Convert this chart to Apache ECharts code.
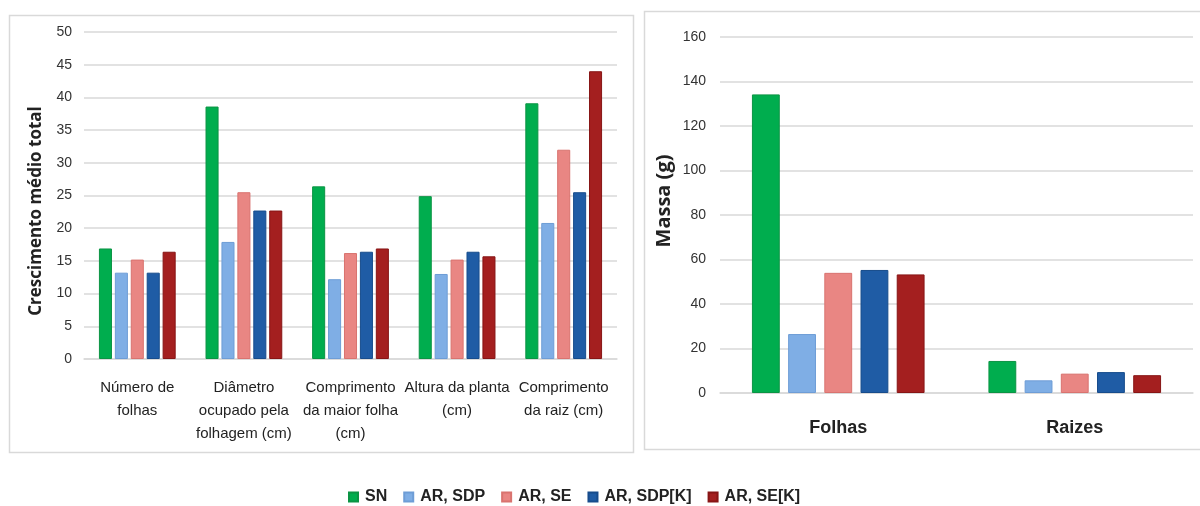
<!DOCTYPE html>
<html>
<head>
<meta charset="utf-8">
<script src="https://cdn.jsdelivr.net/npm/echarts@6/dist/echarts.min.js"></script>
<style>html,body{margin:0;padding:0;background:#fff}#c{width:1200px;height:506px}</style>
</head>
<body>
<div id="c"></div>
<script>
const seriesNames = ['SN', 'AR, SDP', 'AR, SE', 'AR, SDP[K]', 'AR, SE[K]'];
const colors = ['#00AD4E', '#7FAEE5', '#E98683', '#1F5CA5', '#A41F1F'];
const borders = ['#0B9444', '#6E9DD6', '#D9736F', '#174C8C', '#871515'];

const leftCategories = ['Número de\nfolhas', 'Diâmetro\nocupado pela\nfolhagem (cm)', 'Comprimento\nda maior folha\n(cm)', 'Altura da planta\n(cm)', 'Comprimento\nda raiz (cm)'];
const leftSN     = [16.9, 38.6, 26.4, 24.9, 39.1];
const leftSDP    = [13.2, 17.9, 12.2, 13.0, 20.8];
const leftSE     = [15.2, 25.5, 16.2, 15.2, 32.0];
const leftSDPK   = [13.2, 22.7, 16.4, 16.4, 25.5];
const leftSEK    = [16.4, 22.7, 16.9, 15.7, 44.0];

const rightCategories = ['Folhas', 'Raizes'];
const rightSN   = [134.2, 14.4];
const rightSDP  = [26.5, 5.7];
const rightSE   = [54.0, 8.7];
const rightSDPK = [55.3, 9.4];
const rightSEK  = [53.3, 8.0];

const leftYTicks = {min: 0, max: 50, interval: 5};
const rightYTicks = {min: 0, max: 160, interval: 20};
const leftYName = 'Crescimento médio total';
const rightYName = 'Massa (g)';

const leftData = [leftSN, leftSDP, leftSE, leftSDPK, leftSEK];
const rightData = [rightSN, rightSDP, rightSE, rightSDPK, rightSEK];

const sans = '"Liberation Sans", Arial, sans-serif';
const gridColor = '#d9d9d9';

const series = [];
seriesNames.forEach((n, i) => {
  series.push({
    name: n, type: 'bar', xAxisIndex: 0, yAxisIndex: 0, data: leftData[i],
    barGap: '22%', barCategoryGap: '28%',
    itemStyle: {color: colors[i], borderColor: borders[i], borderWidth: 1}
  });
});
seriesNames.forEach((n, i) => {
  series.push({
    name: n, type: 'bar', xAxisIndex: 1, yAxisIndex: 1, data: rightData[i],
    barGap: '30%', barCategoryGap: '27%',
    itemStyle: {color: colors[i], borderColor: borders[i], borderWidth: 1}
  });
});

const chart = echarts.init(document.getElementById('c'), null, {renderer: 'canvas'});
chart.setOption({
  animation: false,
  color: colors,
  graphic: [
    {type: 'rect', shape: {x: 9.5, y: 15.5, width: 624, height: 437}, style: {fill: 'none', stroke: '#d9d9d9', lineWidth: 1.5}, z: -10},
    {type: 'rect', shape: {x: 644.5, y: 11.5, width: 570, height: 438}, style: {fill: 'none', stroke: '#d9d9d9', lineWidth: 1.5}, z: -10},
    {type: 'text', x: 36, y: 211, rotation: Math.PI / 2,
      style: {text: leftYName, align: 'center', verticalAlign: 'middle', fontFamily: '"Open Sans", sans-serif', fontWeight: 'bold', fontSize: 17, fill: '#222'}},
    {type: 'text', x: 664, y: 201, rotation: Math.PI / 2,
      style: {text: rightYName, align: 'center', verticalAlign: 'middle', fontFamily: '"Open Sans", sans-serif', fontWeight: 'bold', fontSize: 20, fill: '#222'}}
  ],
  legend: {
    data: seriesNames,
    top: 484,
    left: 343,
    itemWidth: 9, itemHeight: 9, itemGap: 16,
    icon: 'rect',
    textStyle: {fontFamily: sans, fontWeight: 'bold', fontSize: 16, color: '#222', padding: [0, 0, 0, 2]}
  },
  grid: [
    {left: 84, right: 583, top: 32, bottom: 147},
    {left: 720, right: 7, top: 37, bottom: 113}
  ],
  xAxis: [
    {type: 'category', gridIndex: 0, data: leftCategories,
      axisLine: {lineStyle: {color: gridColor, width: 1.5}}, axisTick: {show: false},
      axisLabel: {interval: 0, margin: 17, fontFamily: sans, fontSize: 15, lineHeight: 23, color: '#222'}},
    {type: 'category', gridIndex: 1, data: rightCategories,
      axisLine: {lineStyle: {color: gridColor, width: 1.5}}, axisTick: {show: false},
      axisLabel: {interval: 0, margin: 26, fontFamily: sans, fontSize: 18, fontWeight: 'bold', color: '#222'}}
  ],
  yAxis: [
    {type: 'value', gridIndex: 0, min: leftYTicks.min, max: leftYTicks.max, interval: leftYTicks.interval,
      axisLine: {show: false}, axisTick: {show: false},
      splitLine: {lineStyle: {color: gridColor, width: 1.5}},
      axisLabel: {margin: 12, fontFamily: sans, fontSize: 14, color: '#333'}},
    {type: 'value', gridIndex: 1, min: rightYTicks.min, max: rightYTicks.max, interval: rightYTicks.interval,
      axisLine: {show: false}, axisTick: {show: false},
      splitLine: {lineStyle: {color: gridColor, width: 1.5}},
      axisLabel: {margin: 14, fontFamily: sans, fontSize: 14, color: '#333'}}
  ],
  series: series
});
</script>
</body>
</html>
